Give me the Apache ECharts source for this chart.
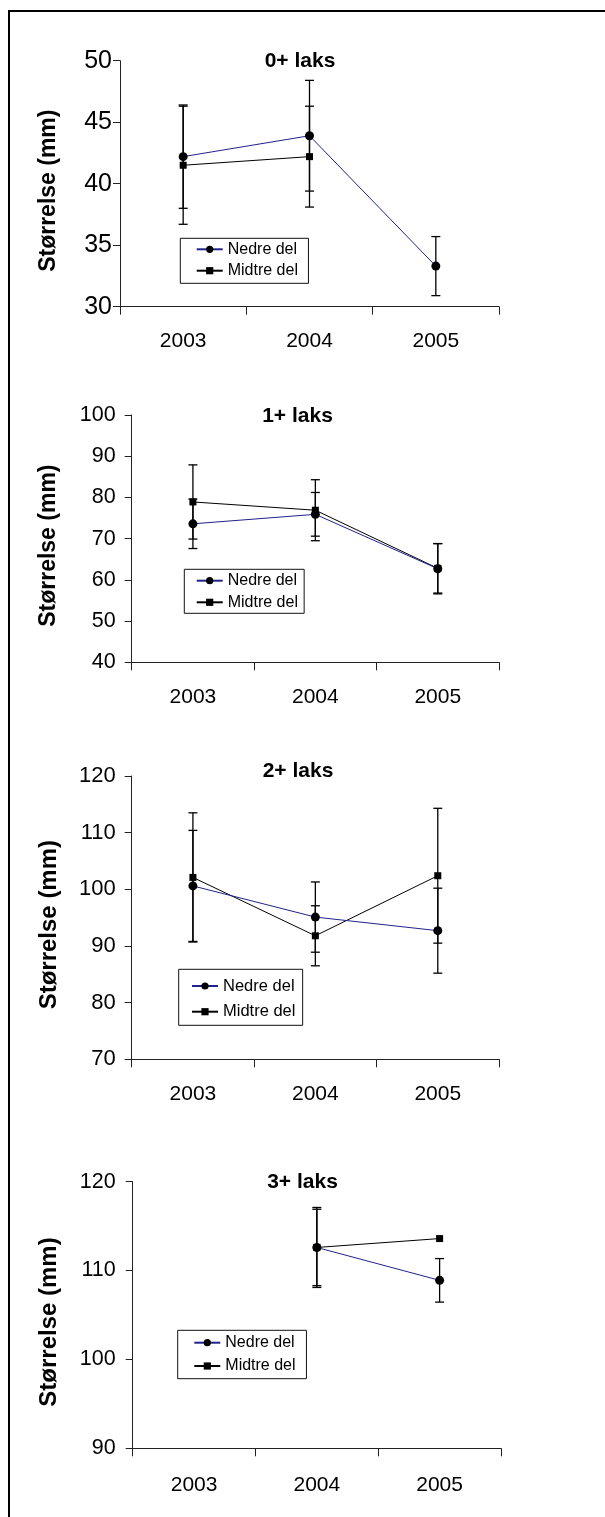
<!DOCTYPE html>
<html><head><meta charset="utf-8">
<script src="https://cdn.jsdelivr.net/npm/echarts@6/dist/echarts.min.js"></script>
<style>html,body{margin:0;padding:0;background:#fff}#c{width:605px;height:1517px}</style>
</head><body><div id="c"></div>
<script>
// ---- data ----
const years = ['2003', '2004', '2005'];
const titles = ['0+ laks', '1+ laks', '2+ laks', '3+ laks'];
const yName = 'Størrelse (mm)';
const seriesNames = ['Nedre del', 'Midtre del'];

const nedre0 = [42.2, 43.9, 33.3];
const nedreErr0 = [4.2, 4.5, 2.4];
const midtre0 = [41.5, 42.2, null];
const midtreErr0 = [4.8, 4.1, null];

const nedre1 = [73.6, 75.9, 62.7];
const nedreErr1 = [6.0, 5.3, 6.1];
const midtre1 = [78.9, 76.9, 62.8];
const midtreErr1 = [9.0, 7.4, 6.0];

const nedre2 = [100.6, 95.1, 92.7];
const nedreErr2 = [9.8, 6.2, 7.5];
const midtre2 = [102.1, 91.8, 102.4];
const midtreErr2 = [11.4, 5.3, 11.9];

const nedre3 = [null, 112.6, 108.9];
const nedreErr3 = [null, 4.5, 2.45];
const midtre3 = [null, 112.6, 113.6];
const midtreErr3 = [null, 4.3, null];

const yMin = [30, 40, 70, 90];
const yMax = [50, 100, 120, 120];
const yStep = [5, 10, 10, 10];

// ---- layout (positions / styles) ----
const panels = [
  {nedre: nedre0, ne: nedreErr0, midtre: midtre0, me: midtreErr0},
  {nedre: nedre1, ne: nedreErr1, midtre: midtre1, me: midtreErr1},
  {nedre: nedre2, ne: nedreErr2, midtre: midtre2, me: midtreErr2},
  {nedre: nedre3, ne: nedreErr3, midtre: midtre3, me: midtreErr3}
];
const gridPos = [
  {left: 120, right: 106, top: 60.7, height: 246},
  {left: 131.7, right: 106, top: 415, height: 247.3},
  {left: 131.7, right: 106, top: 776, height: 283.3},
  {left: 132.7, right: 104, top: 1181.7, height: 266.6}
];
const titlePos = [[300, 51], [297.5, 406], [298, 761], [302.5, 1172]];
const yLabelFont = [25, 21.5, 22, 21.5];
const yLabelMargin = [8, 16, 16, 17];
const yNameGap = [60, 71.7, 70, 71.7];
const yNameFont = [23, 23, 24, 24];
const xLabelMargin = [24, 24, 24, 26];
const legendPos = [
  {left: 180.3, top: 238.3, padding: [3, 10.5, 4.6, 15.4], itemGap: 5.4, fs: 16, lh: 16},
  {left: 184.3, top: 569.3, padding: [3.4, 6.2, 3, 11.4], itemGap: 5.6, fs: 16, lh: 16},
  {left: 178.7, top: 969.3, padding: [7.7, 7.2, 4.6, 12.3], itemGap: 7.7, fs: 16.5, lh: 18},
  {left: 177.7, top: 1330.3, padding: [4.4, 10.9, 4.7, 15.6], itemGap: 7.3, fs: 16, lh: 16}
];

const FONT = '"Liberation Sans", Arial, sans-serif';
const AX = '#222';

function errData(vals, errs) {
  const out = [];
  vals.forEach((v, i) => { if (v != null && errs[i] != null) out.push([i, v, errs[i]]); });
  return out;
}
function renderErr(params, api) {
  const x = api.value(0), v = api.value(1), e = api.value(2);
  const top = api.coord([x, v + e]);
  const bot = api.coord([x, v - e]);
  const hw = 4.5;
  const st = {stroke: '#000', lineWidth: 1.3};
  return {type: 'group', children: [
    {type: 'line', shape: {x1: top[0], y1: top[1], x2: bot[0], y2: bot[1]}, style: st},
    {type: 'line', shape: {x1: top[0] - hw, y1: top[1], x2: top[0] + hw, y2: top[1]}, style: st},
    {type: 'line', shape: {x1: bot[0] - hw, y1: bot[1], x2: bot[0] + hw, y2: bot[1]}, style: st}
  ]};
}

const grid = [], xAxis = [], yAxis = [], series = [], title = [], legend = [];
panels.forEach((p, k) => {
  grid.push(Object.assign({containLabel: false}, gridPos[k]));
  xAxis.push({
    type: 'category', gridIndex: k, data: years, boundaryGap: true,
    axisLine: {lineStyle: {color: AX, width: 1}},
    axisTick: {show: true, length: 8, inside: false, lineStyle: {color: AX}},
    axisLabel: {fontFamily: FONT, fontSize: 21, color: '#000', margin: xLabelMargin[k]},
    splitLine: {show: false}
  });
  yAxis.push({
    type: 'value', gridIndex: k, min: yMin[k], max: yMax[k], interval: yStep[k],
    name: yName, nameLocation: 'middle', nameRotate: 90, nameGap: yNameGap[k],
    nameTextStyle: {fontFamily: FONT, fontSize: yNameFont[k], fontWeight: 'bold', color: '#000', padding: [0, 14, 0, 0]},
    axisLine: {show: true, lineStyle: {color: AX, width: 1}},
    axisTick: {show: true, length: 7, lineStyle: {color: AX}},
    axisLabel: {fontFamily: FONT, fontSize: yLabelFont[k], color: '#000', margin: yLabelMargin[k]},
    splitLine: {show: false}
  });
  title.push({
    text: titles[k], left: titlePos[k][0], top: titlePos[k][1], textAlign: 'center', padding: 0,
    textStyle: {fontFamily: FONT, fontSize: 21, fontWeight: 'bold', color: '#000'}
  });
  const lp = legendPos[k];
  legend.push({
    data: seriesNames, orient: 'vertical', left: lp.left, top: lp.top, padding: lp.padding,
    itemGap: lp.itemGap, itemWidth: 26, itemHeight: 9,
    borderColor: '#111', borderWidth: 1, backgroundColor: '#fff',
    selectedMode: false,
    textStyle: {fontFamily: FONT, fontSize: lp.fs, lineHeight: lp.lh, color: '#000'}
  });
  series.push({
    type: 'custom', name: 'errN' + k, xAxisIndex: k, yAxisIndex: k,
    renderItem: renderErr, data: errData(p.nedre, p.ne), encode: {x: 0, y: 1}, z: 2, silent: true
  });
  series.push({
    type: 'custom', name: 'errM' + k, xAxisIndex: k, yAxisIndex: k,
    renderItem: renderErr, data: errData(p.midtre, p.me), encode: {x: 0, y: 1}, z: 2, silent: true
  });
  series.push({
    type: 'line', name: seriesNames[1], xAxisIndex: k, yAxisIndex: k, data: p.midtre,
    symbol: 'rect', symbolSize: 7, showAllSymbol: true, connectNulls: false,
    lineStyle: {color: '#000', width: 1}, itemStyle: {color: '#000'}, z: 3,
    emphasis: {disabled: true}
  });
  series.push({
    type: 'line', name: seriesNames[0], xAxisIndex: k, yAxisIndex: k, data: p.nedre,
    symbol: 'circle', symbolSize: 9, showAllSymbol: true, connectNulls: false,
    lineStyle: {color: '#22228c', width: 1}, itemStyle: {color: '#000'}, z: 4,
    emphasis: {disabled: true}
  });
});

const chart = echarts.init(document.getElementById('c'), null, {renderer: 'canvas'});
chart.setOption({
  animation: false,
  backgroundColor: '#fff',
  grid, xAxis, yAxis, series, title, legend,
  graphic: [{
    type: 'rect', silent: true, z: 0,
    shape: {x: 9, y: 11, width: 1000, height: 2000},
    style: {fill: 'none', stroke: '#000', lineWidth: 2}
  }]
});
</script></body></html>
